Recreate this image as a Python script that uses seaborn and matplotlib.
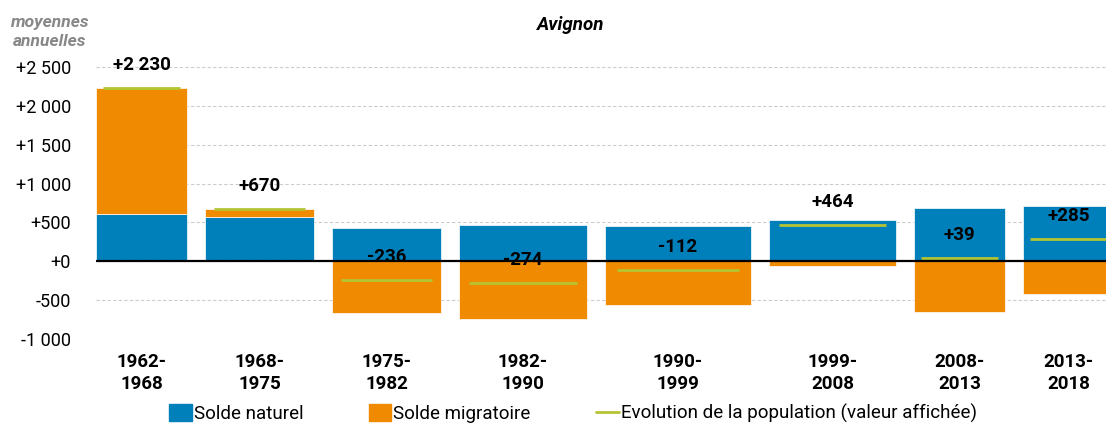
import numpy as np
import pandas as pd
import seaborn as sns
import matplotlib.pyplot as plt
from matplotlib.patches import Patch
from matplotlib.lines import Line2D
from matplotlib.ticker import FuncFormatter

periods = ["1962-\n1968", "1968-\n1975", "1975-\n1982", "1982-\n1990",
           "1990-\n1999", "1999-\n2008", "2008-\n2013", "2013-\n2018"]
solde_naturel = [605, 575, 430, 470, 455, 530, 690, 710]
solde_migratoire = [1625, 95, -666, -744, -567, -66, -651, -425]
evolution = [2230, 670, -236, -274, -112, 464, 39, 285]

BLUE = "#0080BB"
ORANGE = "#F08A00"
GREEN = "#B5C433"


def fmt(v):
    s = f"{abs(v):,.0f}".replace(",", " ")
    return ("-" if v < 0 else "+") + s


def main():
    sns.set_style("white")
    plt.rcParams["font.family"] = ["Roboto", "DejaVu Sans"]
    plt.rcParams["text.color"] = "black"
    plt.rcParams["xtick.color"] = "black"
    plt.rcParams["ytick.color"] = "black"

    df = pd.DataFrame({"periode": periods, "naturel": solde_naturel,
                       "migratoire": solde_migratoire, "total": evolution})

    # bar widths follow the original layout (px)
    widths = np.array([91, 109, 109, 128, 146, 127, 91, 91])
    gap = 18
    lefts = np.concatenate([[0], np.cumsum(widths + gap)[:-1]])
    centers = lefts + widths / 2

    fig = plt.figure(figsize=(11.06, 4.23), dpi=100)
    ax = fig.add_axes([96 / 1106, 1 - 339 / 423, 1 - 96 / 1106, (339 - 47.6) / 423])

    nat = df["naturel"].values
    mig = df["migratoire"].values
    mig_bottom = np.where(mig >= 0, nat, 0)
    ax.bar(lefts, nat, width=widths, align="edge", color=BLUE,
           edgecolor="white", linewidth=0.5, zorder=2)
    ax.bar(lefts, mig, width=widths, bottom=mig_bottom, align="edge",
           color=ORANGE, edgecolor="white", linewidth=0.5, zorder=2)

    for l, w, c, t in zip(lefts, widths, centers, df["total"]):
        ax.hlines(t, l + 0.08 * w, l + 0.92 * w, color=GREEN, lw=2, zorder=3)
        ax.annotate(fmt(t), (c, t), xytext=(0, 23), textcoords="offset pixels",
                    ha="center", va="center", fontsize=13.5, fontweight="bold",
                    zorder=4)

    ax.axhline(0, color="black", lw=1.6, zorder=3)
    ax.set_ylim(-1000, 2750)
    ax.set_xlim(0, 1010)
    ax.set_yticks(range(-1000, 2501, 500))
    ax.yaxis.set_major_formatter(FuncFormatter(lambda v, p: fmt(v)))
    ax.grid(axis="y", color="#cccccc", linestyle=(0, (3, 2)), lw=0.8, zorder=0)
    ax.set_xticks(centers)
    ax.set_xticklabels(df["periode"], fontsize=13.5, fontweight="bold",
                       linespacing=1.3)
    ax.tick_params(axis="y", labelsize=13, length=0, pad=18)
    ax.tick_params(axis="x", length=0, pad=10)
    sns.despine(ax=ax, left=True, bottom=True)

    fig.text(0.516, 0.94, "Avignon", ha="center", va="center", fontsize=13.5,
             fontweight="bold", style="italic")
    fig.text(0.045, 0.925, "moyennes\nannuelles", ha="center", va="center",
             fontsize=12.5, fontweight="bold", style="italic", color="#888888",
             linespacing=1.3)

    handles = [Patch(color=BLUE, label="Solde naturel"),
               Patch(color=ORANGE, label="Solde migratoire"),
               Line2D([], [], color=GREEN, lw=2,
                      label="Evolution de la population (valeur affichée)")]
    fig.legend(handles=handles, loc="center", bbox_to_anchor=(0.518, 0.022),
               ncol=3, frameon=False, fontsize=13.5, handlelength=1.2,
               handletextpad=0.1, columnspacing=3.5, handleheight=1.0)

    fig.savefig("out.png", dpi=100)


main()
